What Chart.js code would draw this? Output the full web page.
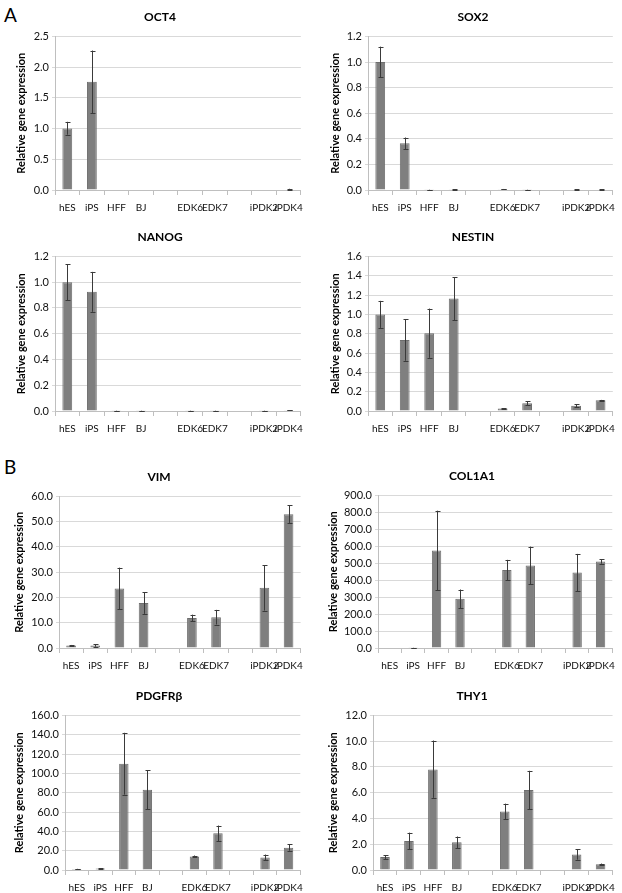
<!DOCTYPE html>
<html>
<head>
<meta charset="utf-8">
<script src="https://cdn.jsdelivr.net/npm/chart.js@4.4.1/dist/chart.umd.min.js"></script>
<style>
  body { margin: 0; background: #fff; width: 622px; height: 893px; position: relative; overflow: hidden; font-family: Lato, "Open Sans", sans-serif; }
  .box { position: absolute; }
  .letter { position: absolute; font-size: 19px; color: #000; }
</style>
</head>
<body>
<div class="letter" style="left:4px;top:3px;">A</div>
<div class="letter" style="left:4px;top:455px;">B</div>

<script>
// categories (two empty slots separate the groups)
const cellLines = ["hES", "iPS", "HFF", "BJ", "", "EDK6", "EDK7", "", "iPDK2", "iPDK4"];

// values, lower and upper error bounds per gene
const oct4 = [1.0, 1.76, 0, 0, null, 0, 0, null, 0, 0.01];
const oct4Lo = [0.9, 1.25, 0, 0, null, 0, 0, null, 0, 0.005];
const oct4Hi = [1.11, 2.27, 0, 0, null, 0, 0, null, 0, 0.02];

const sox2 = [1.0, 0.365, 0.002, 0.005, null, 0.006, 0.002, null, 0.003, 0.004];
const sox2Lo = [0.88, 0.32, 0.001, 0.003, null, 0.004, 0.001, null, 0.002, 0.003];
const sox2Hi = [1.12, 0.41, 0.003, 0.007, null, 0.008, 0.003, null, 0.004, 0.005];

const nanog = [1.0, 0.925, 0.002, 0.002, null, 0.002, 0.002, null, 0.002, 0.005];
const nanogLo = [0.86, 0.77, 0.001, 0.001, null, 0.001, 0.001, null, 0.001, 0.004];
const nanogHi = [1.14, 1.08, 0.003, 0.003, null, 0.003, 0.003, null, 0.003, 0.006];

const nestin = [1.0, 0.735, 0.805, 1.165, null, 0.025, 0.08, null, 0.055, 0.11];
const nestinLo = [0.86, 0.52, 0.55, 0.94, null, 0.02, 0.06, null, 0.04, 0.105];
const nestinHi = [1.14, 0.95, 1.06, 1.385, null, 0.03, 0.10, null, 0.07, 0.115];

const vim = [1.0, 1.0, 23.5, 17.8, null, 11.9, 12.2, null, 23.8, 52.9];
const vimLo = [0.8, 0.5, 15.3, 13.5, null, 10.5, 9.3, null, 14.8, 49.5];
const vimHi = [1.2, 1.5, 31.8, 22.1, null, 13.2, 15.1, null, 32.7, 56.4];

const col1a1 = [0, 1, 575, 290, null, 460, 487, null, 445, 510];
const col1a1Lo = [0, 0.5, 340, 235, null, 400, 375, null, 335, 497];
const col1a1Hi = [0, 1.5, 810, 345, null, 520, 598, null, 555, 523];

const pdgfrb = [1.0, 1.5, 110, 83, null, 14, 38, null, 13, 23];
const pdgfrbLo = [0.8, 1.0, 78, 63, null, 13, 30, null, 10, 20];
const pdgfrbHi = [1.2, 2.0, 142, 103, null, 15, 46, null, 16, 26.5];

const thy1 = [1.0, 2.25, 7.8, 2.15, null, 4.55, 6.2, null, 1.2, 0.45];
const thy1Lo = [0.85, 1.6, 5.6, 1.7, null, 3.95, 4.7, null, 0.8, 0.4];
const thy1Hi = [1.15, 2.9, 10.05, 2.6, null, 5.15, 7.7, null, 1.6, 0.5];

// panel layout: container box, left padding, y axis width, scale range
const panels = [
  { name: "OCT4", vals: oct4, lo: oct4Lo, hi: oct4Hi, max: 2.5, step: 0.5, left: 0, top: 0, w: 310, h: 222, pl: 15, yw: 40 },
  { name: "SOX2", vals: sox2, lo: sox2Lo, hi: sox2Hi, max: 1.2, step: 0.2, left: 311, top: 0, w: 311, h: 222, pl: 18, yw: 39 },
  { name: "NANOG", vals: nanog, lo: nanogLo, hi: nanogHi, max: 1.2, step: 0.2, left: 0, top: 220, w: 310, h: 223, pl: 15, yw: 40 },
  { name: "NESTIN", vals: nestin, lo: nestinLo, hi: nestinHi, max: 1.6, step: 0.2, left: 311, top: 220, w: 311, h: 223, pl: 18, yw: 39 },
  { name: "VIM", vals: vim, lo: vimLo, hi: vimHi, max: 60, step: 10, left: 0, top: 460, w: 310, h: 220, pl: 13, yw: 46 },
  { name: "COL1A1", vals: col1a1, lo: col1a1Lo, hi: col1a1Hi, max: 900, step: 100, left: 311, top: 459, w: 311, h: 221, pl: 16, yw: 51 },
  { name: "PDGFRβ", vals: pdgfrb, lo: pdgfrbLo, hi: pdgfrbHi, max: 160, step: 20, left: 0, top: 679, w: 310, h: 223, pl: 13, yw: 52 },
  { name: "THY1", vals: thy1, lo: thy1Lo, hi: thy1Hi, max: 12, step: 2, left: 311, top: 679, w: 311, h: 223, pl: 16, yw: 46 }
];

const errorBars = {
  id: "errorBars",
  afterDatasetsDraw(chart, args, opts) {
    const ctx = chart.ctx;
    const y = chart.scales.y;
    const meta = chart.getDatasetMeta(0);
    ctx.save();
    ctx.strokeStyle = "#3a3a3a";
    ctx.lineWidth = 1;
    meta.data.forEach((bar, i) => {
      const lo = opts.lo[i], hi = opts.hi[i];
      if (lo == null || hi == null || hi - lo <= 0) return;
      const x = Math.round(bar.x) + 0.5;
      const y1 = y.getPixelForValue(lo), y2 = y.getPixelForValue(hi);
      ctx.beginPath();
      ctx.moveTo(x, y1); ctx.lineTo(x, y2);
      ctx.moveTo(x - 2, Math.round(y1) + 0.5); ctx.lineTo(x + 3, Math.round(y1) + 0.5);
      ctx.moveTo(x - 2, Math.round(y2) + 0.5); ctx.lineTo(x + 3, Math.round(y2) + 0.5);
      ctx.stroke();
    });
    ctx.restore();
  }
};

Chart.defaults.font.family = "Lato, 'Open Sans', sans-serif";
Chart.defaults.color = "#222";

panels.forEach((p) => {
  const box = document.createElement("div");
  box.className = "box";
  box.style.left = p.left + "px";
  box.style.top = p.top + "px";
  box.style.width = p.w + "px";
  box.style.height = p.h + "px";
  const canvas = document.createElement("canvas");
  box.appendChild(canvas);
  document.body.appendChild(box);

  new Chart(canvas, {
    type: "bar",
    data: {
      labels: cellLines,
      datasets: [{
        data: p.vals,
        backgroundColor: "#7f7f7f",
        borderColor: "#6e6e6e",
        borderWidth: 1,
        barPercentage: 0.4,
        categoryPercentage: 1
      }]
    },
    options: {
      responsive: true,
      maintainAspectRatio: false,
      animation: false,
      layout: { padding: { left: p.pl, right: 5, top: 0, bottom: 0 } },
      plugins: {
        legend: { display: false },
        tooltip: { enabled: false },
        title: {
          display: true,
          text: p.name,
          color: "#000",
          font: { size: 12, weight: "bold" },
          padding: { top: 10, bottom: 12 }
        },
        errorBars: { lo: p.lo, hi: p.hi }
      },
      scales: {
        x: {
          grid: { offset: true, drawOnChartArea: false, drawTicks: true, tickLength: 5, color: "#bfbfbf" },
          border: { color: "#bfbfbf" },
          ticks: {
            autoSkip: false, maxRotation: 0, minRotation: 0, color: "#111", padding: 7,
            font: { size: 10 }
          },
          afterFit(scale) { scale.height = 32; }
        },
        y: {
          min: 0,
          max: p.max,
          grid: { color: "#d9d9d9", drawTicks: true, tickLength: 3 },
          border: { color: "#bfbfbf" },
          ticks: {
            stepSize: p.step,
            color: "#111",
            font: { size: 11 },
            padding: 3,
            callback: (v) => Number(v).toFixed(1)
          },
          title: {
            display: true,
            text: "Relative gene expression",
            color: "#000",
            font: { size: 11, weight: "bold" },
            padding: { top: 0, bottom: 2 }
          },
          afterFit(scale) { scale.width = p.yw; }
        }
      }
    },
    plugins: [errorBars]
  });
});
</script>
</body>
</html>
